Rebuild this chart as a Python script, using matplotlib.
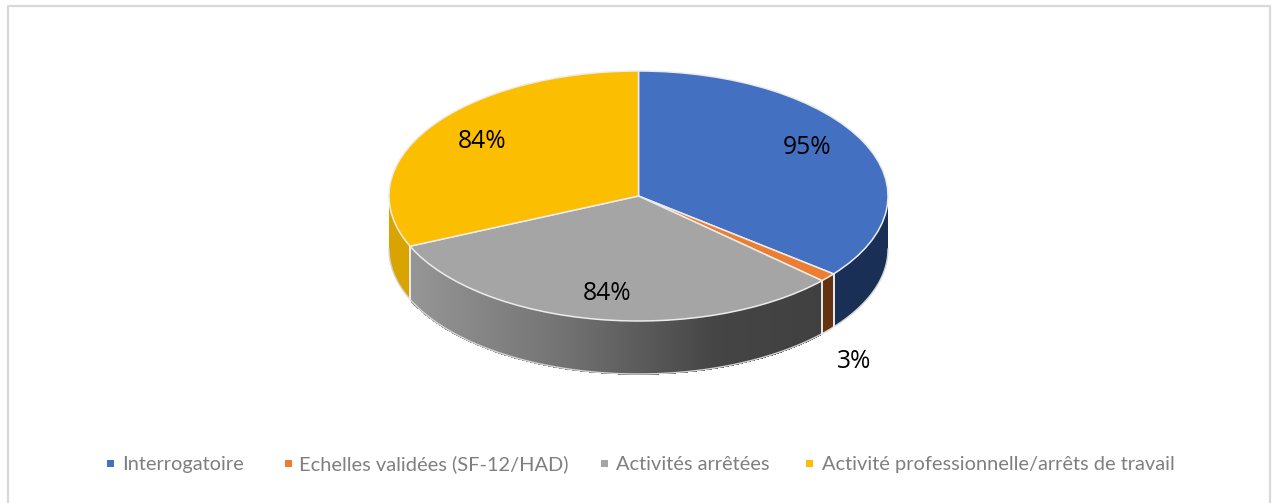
import matplotlib
matplotlib.use("Agg")
import matplotlib.pyplot as plt
from matplotlib.collections import PolyCollection
from matplotlib.patches import Rectangle
import numpy as np

W, H = 1278, 503

categories = ["Interrogatoire", "Echelles validées (SF-12/HAD)", "Activités arrêtées",
              "Activité professionnelle/arrêts de travail"]
values = [95, 3, 84, 84]
labels = ["95%", "3%", "84%", "84%"]
top_colors = ["#4370c1", "#ed7d31", "#a5a5a5", "#fcbe00"]

# geometrie de l'ellipse, en pixels
CX, CY, RX, RY = 638.5, 196, 249.5, 125
DEPTH = 53 / RY

fig = plt.figure(figsize=(W / 100, H / 100), dpi=100, facecolor="white")
ax = fig.add_axes([0, 0, 1, 1])

wedges, _ = ax.pie(values, startangle=90, counterclock=False, radius=1, center=(0, 0),
                   colors=top_colors, wedgeprops={"edgecolor": "#ececec", "linewidth": 1.1, "zorder": 5})
ax.set_aspect("auto")
ax.set_xlim(-CX / RX, (W - CX) / RX)
ax.set_ylim(-(H - CY) / RY, CY / RY)
ax.set_frame_on(False)


def px(x, y):
    # pixels de l'image -> coordonnees de l'axe
    return (x - CX) / RX, (CY - y) / RY


def wall_color(i, x):
    if i == 0:
        return "#1a2f55"
    if i == 1:
        return "#643311"
    if i == 3:
        return "#d9a300"
    # degrade du mur gris
    g = np.interp(x, [-0.92, -0.3, 0.3, 0.75], [0x96, 0x72, 0x45, 0x40])
    return (g / 255, g / 255, g / 255)


# murs du camembert
edges = np.cumsum([0] + values) / sum(values) * 360
for i in range(len(values)):
    a0 = max(edges[i], 90)
    a1 = min(edges[i + 1], 270)
    if a1 <= a0:
        continue
    t = np.radians(np.linspace(a0, a1, max(int((a1 - a0) * 3), 2) + 1))
    xs, ys = np.sin(t), np.cos(t)
    if i == 2:
        # tranches sans antialiasing pour eviter les rayures
        polys = []
        cols = []
        for j in range(len(t) - 1):
            polys.append([(xs[j], ys[j]), (xs[j + 1], ys[j + 1]),
                          (xs[j + 1], ys[j + 1] - DEPTH), (xs[j], ys[j] - DEPTH)])
            cols.append(wall_color(i, (xs[j] + xs[j + 1]) / 2))
        ax.add_collection(PolyCollection(polys, facecolors=cols, edgecolors=cols, linewidths=0.6,
                                         antialiaseds=False, zorder=2))
    else:
        ax.fill(np.r_[xs, xs[::-1]], np.r_[ys, ys[::-1] - DEPTH], color=wall_color(i, 0), lw=0, zorder=2)
    # liseres clairs
    ax.plot(xs, ys - DEPTH, color="#d4d4d4", lw=1.0, zorder=3)
    for a in (edges[i], edges[i + 1]):
        if 90 < a < 270:
            r = np.radians(a)
            ax.plot([np.sin(r)] * 2, [np.cos(r), np.cos(r) - DEPTH], color="#f0f0f0", lw=1.1, zorder=4)

# pourcentages
label_pos = [(807, 148), (854, 361), (607, 293), (482, 141)]
for lab, (x, y) in zip(labels, label_pos):
    lx, ly = px(x, y)
    ax.text(lx, ly, lab, fontsize=17.7, color="black", family="Open Sans", ha="center", va="center", zorder=6)

# legende
square_x = [107, 285, 601, 806]
text_x = [122, 299, 616, 822]
for name, col, sx, tx in zip(categories, top_colors, square_x, text_x):
    fig.patches.append(Rectangle((sx / W, 1 - 467 / H), 7 / W, 7 / H, transform=fig.transFigure,
                                 facecolor=col, edgecolor="none", figure=fig))
    fig.text(tx / W, 1 - 470 / H, name, fontsize=14.4, color="#7f7f7f", family="Lato",
             ha="left", va="baseline")

# cadre du graphique (pas de trait en bas)
frame = "#d9d9d9"
fig.add_artist(plt.Line2D([8 / W, 8 / W, 1270 / W, 1270 / W], [0, 1 - 6 / H, 1 - 6 / H, 0],
                          color=frame, lw=1.6, transform=fig.transFigure))

fig.savefig("out.png", dpi=100)
